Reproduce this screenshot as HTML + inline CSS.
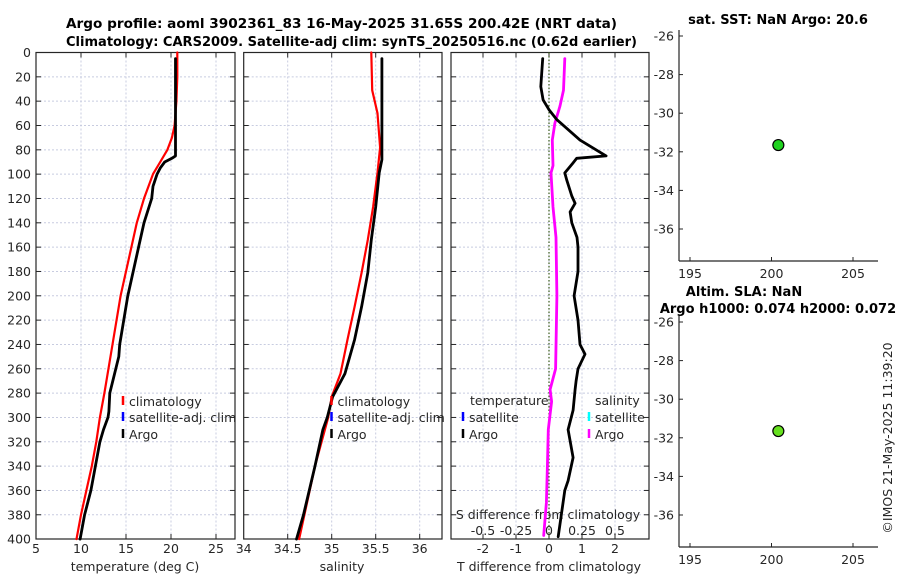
<!DOCTYPE html>
<html><head><meta charset="utf-8">
<style>
html,body{margin:0;padding:0;background:#fff;}
svg{display:block;font-family:"DejaVu Sans","Liberation Sans",sans-serif;}
.t{fill:#262626;font-size:12.5px;}
.b{fill:#000;font-size:13.6px;font-weight:bold;}
.b2{fill:#000;font-size:13px;font-weight:bold;}
</style></head>
<body>
<svg id="fig" width="900" height="580" viewBox="0 0 900 580" xmlns="http://www.w3.org/2000/svg">
<text class="b" x="66" y="28" textLength="551" lengthAdjust="spacingAndGlyphs">Argo profile: aoml 3902361_83 16-May-2025 31.65S 200.42E (NRT data)</text>
<text class="b" x="66" y="46" textLength="571" lengthAdjust="spacingAndGlyphs">Climatology: CARS2009. Satellite-adj clim: synTS_20250516.nc (0.62d earlier)</text>
<text class="b2" x="778" y="24" text-anchor="middle">sat. SST: NaN Argo: 20.6</text>
<text class="b2" x="744" y="296" text-anchor="middle">Altim. SLA: NaN</text>
<text class="b2" x="778" y="313" text-anchor="middle">Argo h1000: 0.074 h2000: 0.072</text>
<text class="t" transform="translate(892,438) rotate(-90)" text-anchor="middle">©IMOS 21-May-2025 11:39:20</text>
<g id="plots"></g>
</svg>
<script>
// ---- data ----
const depthTicks = [0,20,40,60,80,100,120,140,160,180,200,220,240,260,280,300,320,340,360,380,400];
const tTicks = [5,10,15,20,25];
const sTicks = [34,34.5,35,35.5,36];
const sTickLabels = ["34","34.5","35","35.5","36"];
const dTicks = [-2,-1,0,1,2];
const dsTickLabels = ["-0.5","-0.25","0","0.25","0.5"];

const climTDepth = [0,20,40,60,70,80,90,100,120,140,160,200,240,280,300,320,340,360,380,400];
const climTVal   = [20.7,20.7,20.6,20.4,20.1,19.6,18.8,18.0,17.0,16.2,15.6,14.4,13.5,12.6,12.1,11.7,11.2,10.6,10.0,9.5];
const argoTDepth = [5,40,85,87,90,95,100,110,120,140,160,200,240,250,280,295,300,310,320,340,360,380,400];
const argoTVal   = [20.5,20.5,20.5,20.1,19.3,18.8,18.45,18.0,17.85,17.0,16.4,15.2,14.3,14.2,13.2,13.1,13.0,12.5,12.1,11.6,11.1,10.4,9.9];

const climSDepth = [0,31,50,78,99,127,154,181,209,236,264,283,300,340,380,400];
const climSVal   = [35.45,35.46,35.52,35.55,35.52,35.47,35.41,35.34,35.26,35.18,35.10,35.0,34.96,34.81,34.69,34.63];
const argoSDepth = [5,40,88,99,127,154,181,209,236,264,283,300,310,340,380,400];
const argoSVal   = [35.57,35.57,35.57,35.54,35.50,35.45,35.41,35.34,35.26,35.15,35.01,34.95,34.90,34.81,34.68,34.60];

const dTDepth = [5,28,39,47,55,72,85,87,91,99,105,118,124,131,140,152,160,180,200,220,240,248,260,270,277,294,310,333,352,360,379,398];
const dTVal   = [-0.19,-0.25,-0.18,0.0,0.23,0.94,1.73,0.84,0.72,0.48,0.54,0.69,0.79,0.64,0.69,0.85,0.88,0.88,0.76,0.88,0.94,1.09,0.88,0.82,0.79,0.73,0.58,0.73,0.58,0.48,0.38,0.28];
const dSDepth = [5,31,44,58,72,93,99,127,152,200,260,277,287,310,343,370,397];
const dSVal   = [0.12,0.11,0.083,0.045,0.025,0.03,0.015,0.03,0.053,0.06,0.05,0.008,0.02,-0.005,-0.013,-0.02,-0.04];

const argoLon = [200.42];
const argoLat = [-31.65];

// ---- helpers ----
const NS="http://www.w3.org/2000/svg";
const root=document.getElementById('plots');
function el(tag,attrs,parent,text){const e=document.createElementNS(NS,tag);for(const k in attrs)e.setAttribute(k,attrs[k]);if(text!==undefined)e.textContent=text;(parent||root).appendChild(e);return e;}
const Y0=52.5, YS=1.2165, YB=539;
const yD=d=>Y0+d*YS;
const xT=v=>36+(v-5)*9;
const xS=v=>243.7+(v-34)*88;
const xDT=v=>549+v*33;
const xDS=v=>549+v*132;
const panels=[[36,235],[243.7,442],[451,649]];
const ink="#262626", grid="#c8cce0";

panels.forEach((p,i)=>{
  const g=el('g',{});
  
  
  depthTicks.forEach(d=>{
    if(d===0||d===400) return;
    const l=el('line',{x1:p[0],x2:p[1],y1:yD(d),y2:yD(d),stroke:grid,'stroke-width':1,'stroke-dasharray':'2,2'},g);
     
    el('line',{x1:p[0],x2:p[0]+5,y1:yD(d),y2:yD(d),stroke:ink,'stroke-width':1},g);
    el('line',{x1:p[1]-5,x2:p[1],y1:yD(d),y2:yD(d),stroke:ink,'stroke-width':1},g);
  });
  let xs = i===0? tTicks.map(xT) : i===1? sTicks.map(xS) : dTicks.map(xDT);
  xs.forEach(x=>{
    if(x<=p[0]+1) return;
    el('line',{x1:x,x2:x,y1:Y0,y2:YB,stroke:grid,'stroke-width':1,'stroke-dasharray':'2,2'},g);
    el('line',{x1:x,x2:x,y1:YB-5,y2:YB,stroke:ink,'stroke-width':1},g);
    el('line',{x1:x,x2:x,y1:Y0,y2:Y0+5,stroke:ink,'stroke-width':1},g);
  });
  const r=el('rect',{x:p[0],y:Y0,width:p[1]-p[0],height:YB-Y0,fill:'none',stroke:ink,'stroke-width':1.2},g);
   
});
depthTicks.forEach(d=>{
  const t=el('text',{x:31,y:yD(d)+4.5,'text-anchor':'end',class:'t'},root,String(d));
   
});
tTicks.forEach(v=>{const t=el('text',{x:xT(v),y:553,'text-anchor':'middle',class:'t'},root,String(v));
   });
sTicks.forEach((v,i)=>{const t=el('text',{x:xS(v),y:553,'text-anchor':'middle',class:'t'},root,sTickLabels[i]);
   });
dTicks.forEach(v=>{const t=el('text',{x:xDT(v),y:553,'text-anchor':'middle',class:'t'},root,String(v));
   });
dTicks.forEach((v,i)=>{const t=el('text',{x:xDT(v),y:535,'text-anchor':'middle',class:'t'},root,dsTickLabels[i]);
   });
let a;
a=el('text',{x:135,y:571,'text-anchor':'middle',class:'t'},root,'temperature (deg C)');
 
a=el('text',{x:342,y:571,'text-anchor':'middle',class:'t'},root,'salinity');
 
a=el('text',{x:549,y:571,'text-anchor':'middle',class:'t'},root,'T difference from climatology');
 
a=el('text',{x:548,y:519,'text-anchor':'middle',class:'t'},root,'S difference from climatology');
 

a=el('line',{x1:xDT(0),x2:xDT(0),y1:Y0,y2:YB,stroke:'#3a5a1a','stroke-width':1.2,'stroke-dasharray':'1.5,2'});
 

function poly(depths,vals,xf,color,w){
  const pts=depths.map((d,i)=>xf(vals[i]).toFixed(1)+','+yD(d).toFixed(1)).join(' ');
  return el('polyline',{points:pts,fill:'none',stroke:color,'stroke-width':w,'stroke-linejoin':'round','stroke-linecap':'round'});
}
let s;
s=poly(climTDepth,climTVal,xT,'#ff0000',2.2);  
s=poly(argoTDepth,argoTVal,xT,'#000',2.8);  
s=poly(climSDepth,climSVal,xS,'#ff0000',2.2);  
s=poly(argoSDepth,argoSVal,xS,'#000',2.8);  
s=poly(dSDepth,dSVal,xDS,'#ff00ff',2.8);  
s=poly(dTDepth,dTVal,xDT,'#000',2.8);  

function legend(x,y,color,label,name){
  const g=el('g',{});
   
  el('line',{x1:x,x2:x,y1:y-10,y2:y-1,stroke:color,'stroke-width':2.5},g);
  el('text',{x:x+6,y:y,class:'t'},g,label);
}
legend(123,406,'#ff0000','climatology','legend-entry-climatology-t');
legend(123,422,'#0000ff','satellite-adj. clim','legend-entry-satellite-t');
legend(123,439,'#000','Argo','legend-entry-argo-t');
legend(331.5,406,'#ff0000','climatology','legend-entry-climatology-s');
legend(331.5,422,'#0000ff','satellite-adj. clim','legend-entry-satellite-s');
legend(331.5,439,'#000','Argo','legend-entry-argo-s');
a=el('text',{x:470,y:405,class:'t'},root,'temperature');  
legend(463,422,'#0000ff','satellite','legend-entry-satellite-dt');
legend(463,439,'#000','Argo','legend-entry-argo-dt');
a=el('text',{x:595,y:405,class:'t'},root,'salinity');  
legend(589,422,'#00ffff','satellite','legend-entry-satellite-ds');
legend(589,439,'#ff00ff','Argo','legend-entry-argo-ds');

const lonTicks=[195,200,205];
const latTicks=[-26,-28,-30,-32,-34,-36];
[0,286].forEach((off,k)=>{
  const g=el('g',{});
  
  
  const L=679,R=878,T=30+off,B=261+off;
  const xl=v=>690+(v-195)*16.3;
  const yl=v=>36+off+(-26-v)*19.3;
  el('line',{x1:L,x2:R,y1:B,y2:B,stroke:ink,'stroke-width':1.2},g);
  el('line',{x1:L,x2:L,y1:T,y2:B,stroke:ink,'stroke-width':1.2},g);
  lonTicks.forEach(v=>{
    el('line',{x1:xl(v),x2:xl(v),y1:B-4,y2:B,stroke:ink},g);
    el('text',{x:xl(v),y:B+17,'text-anchor':'middle',class:'t'},g,String(v));
  });
  latTicks.forEach(v=>{
    el('line',{x1:L,x2:L+4,y1:yl(v),y2:yl(v),stroke:ink},g);
    el('text',{x:L-5,y:yl(v)+4.5,'text-anchor':'end',class:'t'},g,String(v));
  });
  argoLon.forEach((lo,i)=>{
    const c=el('circle',{cx:xl(lo),cy:yl(argoLat[i]),r:5.5,fill:k===0?'#1fd21f':'#66e01f',stroke:'#000','stroke-width':1.2},g);
     
  });
});
</script>
</body></html>
